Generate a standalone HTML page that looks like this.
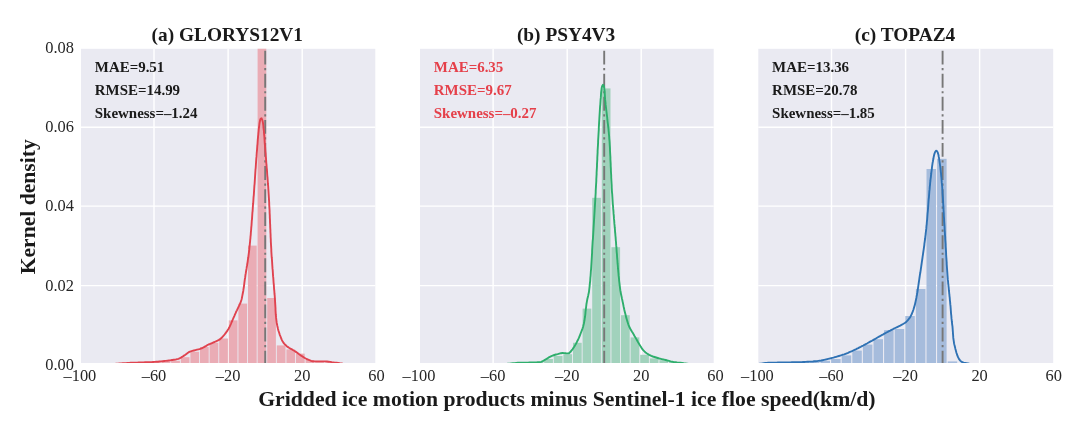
<!DOCTYPE html>
<html lang="en"><head><meta charset="utf-8"><title>Kernel density of ice motion differences</title>
<style>
html,body{margin:0;padding:0;background:#fff}
body{width:1084px;height:423px;overflow:hidden}
svg{display:block}
text{font-family:"Liberation Serif","Times New Roman",serif;fill:#222}
.tt{font-size:19.35px;font-weight:bold;fill:#1a1a1a}
.an{font-size:14.95px;font-weight:bold}
.tk{font-size:16.4px;fill:#262626}
.xl{font-size:21.72px;font-weight:bold;fill:#1a1a1a}
.yl{font-size:21.6px;font-weight:bold;fill:#1a1a1a}
</style></head>
<body>
<svg width="1084" height="423" viewBox="0 0 1084 423">
<defs>
<clipPath id="cp0"><rect x="81.0" y="48.8" width="294.3" height="314.2"/></clipPath>
<clipPath id="cp1"><rect x="420.0" y="48.8" width="293.7" height="314.2"/></clipPath>
<clipPath id="cp2"><rect x="758.3" y="48.8" width="294.9" height="314.2"/></clipPath>
</defs>
<rect width="1084" height="423" fill="#fff"/>
<g>
<rect x="81.0" y="48.8" width="294.3" height="314.2" fill="#eaeaf2"/>
<path d="M154.0,48.8 V363.0 M228.1,48.8 V363.0 M302.2,48.8 V363.0 M81.0,285.6 H375.3 M81.0,206.1 H375.3 M81.0,127.3 H375.3" stroke="#fff" stroke-width="1.45" fill="none"/>
<g clip-path="url(#cp0)">
<rect x="152.0" y="362.3" width="8.7" height="0.7" fill="#eaacb5"/>
<rect x="161.6" y="361.6" width="8.7" height="1.4" fill="#eaacb5"/>
<rect x="171.2" y="360.8" width="8.7" height="2.2" fill="#eaacb5"/>
<rect x="180.8" y="357.2" width="8.7" height="5.8" fill="#eaacb5"/>
<rect x="190.4" y="351.8" width="8.7" height="11.2" fill="#eaacb5"/>
<rect x="200.0" y="347.0" width="8.7" height="16.0" fill="#eaacb5"/>
<rect x="209.6" y="342.8" width="8.7" height="20.2" fill="#eaacb5"/>
<rect x="219.2" y="338.5" width="8.7" height="24.5" fill="#eaacb5"/>
<rect x="228.8" y="320.4" width="8.7" height="42.6" fill="#eaacb5"/>
<rect x="238.4" y="303.6" width="8.7" height="59.4" fill="#eaacb5"/>
<rect x="248.0" y="245.6" width="8.7" height="117.4" fill="#eaacb5"/>
<rect x="257.6" y="20.0" width="8.7" height="343.0" fill="#eaacb5"/>
<rect x="267.2" y="298.0" width="8.7" height="65.0" fill="#eaacb5"/>
<rect x="276.8" y="345.4" width="8.7" height="17.6" fill="#eaacb5"/>
<rect x="286.4" y="349.4" width="8.7" height="13.6" fill="#eaacb5"/>
<rect x="296.0" y="353.6" width="8.7" height="9.4" fill="#eaacb5"/>
<rect x="305.6" y="360.0" width="8.7" height="3.0" fill="#eaacb5"/>
<rect x="315.2" y="361.7" width="8.7" height="1.3" fill="#eaacb5"/>
<rect x="324.8" y="362.4" width="8.7" height="0.6" fill="#eaacb5"/>
<path d="M265.2,363.0 V48.8" stroke="#777" stroke-width="1.9" stroke-dasharray="13.87 3.5 2.2 3.5" stroke-dashoffset="1.5" fill="none"/>
<path d="M110.0,364.4 L111.6,364.2 L113.2,364.1 L114.8,363.9 L116.4,363.8 L118.0,363.7 L119.6,363.5 L121.2,363.4 L122.8,363.3 L124.4,363.2 L125.9,363.1 L127.5,363.0 L129.1,362.9 L130.7,362.8 L132.3,362.7 L133.9,362.7 L135.5,362.6 L137.1,362.6 L138.7,362.5 L140.3,362.5 L141.9,362.4 L143.5,362.4 L145.1,362.3 L146.7,362.3 L148.3,362.2 L149.9,362.2 L151.5,362.1 L153.1,362.0 L154.7,361.9 L156.3,361.8 L157.9,361.7 L159.5,361.5 L161.1,361.4 L162.7,361.2 L164.3,361.0 L165.9,360.9 L167.5,360.7 L169.1,360.5 L170.7,360.3 L172.3,360.0 L173.9,359.8 L175.5,359.6 L177.0,359.2 L178.5,358.8 L179.9,358.2 L181.3,357.4 L182.7,356.5 L184.0,355.6 L185.4,354.7 L186.7,353.7 L188.0,352.7 L189.3,351.9 L190.8,351.3 L192.3,350.9 L193.9,350.5 L195.4,350.1 L197.0,349.7 L198.6,349.3 L200.1,348.9 L201.6,348.4 L203.0,347.7 L204.4,346.9 L205.8,346.1 L207.2,345.2 L208.6,344.5 L210.1,343.9 L211.5,343.3 L213.0,342.6 L214.5,342.0 L216.0,341.3 L217.5,340.6 L218.9,339.9 L220.2,339.1 L221.4,338.1 L222.5,336.9 L223.6,335.7 L224.6,334.5 L225.6,333.2 L226.5,331.9 L227.4,330.6 L228.3,329.2 L229.1,327.8 L229.8,326.4 L230.5,324.9 L231.1,323.5 L231.7,322.0 L232.4,320.5 L233.0,319.0 L233.6,317.6 L234.3,316.1 L234.9,314.6 L235.6,313.2 L236.2,311.7 L236.9,310.3 L237.6,308.8 L238.3,307.3 L239.0,305.9 L239.7,304.4 L240.4,303.0 L240.9,301.5 L241.4,300.0 L241.8,298.5 L242.1,296.9 L242.4,295.4 L242.7,293.8 L243.0,292.3 L243.3,290.7 L243.5,289.1 L243.8,287.5 L244.0,285.9 L244.2,284.3 L244.4,282.7 L244.6,281.1 L244.8,279.5 L245.1,277.9 L245.3,276.3 L245.5,274.7 L245.8,273.2 L246.0,271.6 L246.3,270.0 L246.6,268.4 L246.8,266.8 L247.1,265.2 L247.3,263.7 L247.6,262.1 L247.8,260.5 L248.0,258.9 L248.3,257.3 L248.5,255.7 L248.7,254.2 L248.9,252.6 L249.1,251.0 L249.3,249.4 L249.4,247.8 L249.6,246.2 L249.8,244.6 L249.9,243.0 L250.1,241.5 L250.2,239.9 L250.4,238.3 L250.5,236.7 L250.7,235.1 L250.8,233.5 L250.9,231.9 L251.1,230.3 L251.2,228.7 L251.3,227.1 L251.5,225.5 L251.6,223.9 L251.7,222.3 L251.8,220.7 L252.0,219.1 L252.1,217.5 L252.2,215.9 L252.3,214.3 L252.4,212.7 L252.6,211.1 L252.7,209.5 L252.8,207.9 L252.9,206.3 L253.0,204.8 L253.2,203.2 L253.3,201.6 L253.4,200.0 L253.5,198.4 L253.6,196.8 L253.8,195.2 L253.9,193.6 L254.0,192.0 L254.1,190.4 L254.2,188.8 L254.3,187.2 L254.4,185.6 L254.6,184.0 L254.7,182.4 L254.8,180.8 L254.9,179.2 L255.0,177.6 L255.1,176.0 L255.2,174.4 L255.3,172.8 L255.4,171.2 L255.5,169.6 L255.7,168.0 L255.8,166.4 L255.9,164.8 L256.0,163.2 L256.1,161.6 L256.2,160.1 L256.3,158.5 L256.5,156.9 L256.6,155.3 L256.7,153.7 L256.8,152.1 L257.0,150.5 L257.1,148.9 L257.2,147.3 L257.3,145.7 L257.5,144.1 L257.6,142.5 L257.7,140.9 L257.8,139.3 L258.0,137.7 L258.1,136.1 L258.3,134.5 L258.4,132.9 L258.6,131.3 L258.7,129.7 L258.9,128.2 L259.1,126.6 L259.3,125.0 L259.5,123.4 L259.8,121.8 L260.1,120.2 L260.7,118.6 L261.6,118.3 L262.3,120.0 L262.7,121.5 L263.0,123.1 L263.2,124.7 L263.4,126.3 L263.5,127.9 L263.7,129.5 L263.9,131.1 L264.0,132.7 L264.1,134.3 L264.3,135.8 L264.4,137.4 L264.5,139.0 L264.6,140.6 L264.7,142.2 L264.8,143.8 L265.0,145.4 L265.1,147.0 L265.2,148.6 L265.3,150.2 L265.4,151.8 L265.6,153.4 L265.7,155.0 L265.8,156.6 L266.0,158.2 L266.1,159.8 L266.2,161.4 L266.3,163.0 L266.5,164.6 L266.6,166.2 L266.7,167.8 L266.9,169.4 L267.0,171.0 L267.1,172.6 L267.2,174.2 L267.3,175.8 L267.5,177.4 L267.6,179.0 L267.7,180.5 L267.8,182.1 L267.9,183.7 L268.1,185.3 L268.2,186.9 L268.3,188.5 L268.4,190.1 L268.5,191.7 L268.6,193.3 L268.7,194.9 L268.8,196.5 L268.9,198.1 L269.0,199.7 L269.1,201.3 L269.2,202.9 L269.2,204.5 L269.3,206.1 L269.4,207.7 L269.5,209.3 L269.6,210.9 L269.6,212.5 L269.7,214.1 L269.8,215.7 L269.8,217.3 L269.9,218.9 L270.0,220.5 L270.0,222.1 L270.1,223.7 L270.2,225.3 L270.2,226.9 L270.3,228.5 L270.4,230.1 L270.4,231.7 L270.5,233.3 L270.6,234.9 L270.6,236.5 L270.7,238.1 L270.8,239.7 L270.8,241.3 L270.9,242.9 L271.0,244.5 L271.1,246.1 L271.2,247.7 L271.3,249.3 L271.3,250.9 L271.4,252.5 L271.5,254.1 L271.6,255.7 L271.7,257.2 L271.9,258.8 L272.0,260.4 L272.1,262.0 L272.2,263.6 L272.3,265.2 L272.4,266.8 L272.5,268.4 L272.7,270.0 L272.8,271.6 L272.9,273.2 L273.0,274.8 L273.1,276.4 L273.3,278.0 L273.4,279.6 L273.5,281.2 L273.6,282.8 L273.8,284.4 L273.9,286.0 L274.0,287.6 L274.1,289.2 L274.3,290.8 L274.4,292.4 L274.5,294.0 L274.7,295.5 L274.8,297.1 L274.9,298.7 L275.0,300.3 L275.1,301.9 L275.2,303.5 L275.3,305.1 L275.4,306.7 L275.5,308.3 L275.5,309.9 L275.6,311.5 L275.7,313.1 L275.8,314.7 L276.0,316.3 L276.1,317.9 L276.3,319.5 L276.5,321.1 L276.7,322.7 L277.0,324.2 L277.3,325.8 L277.7,327.4 L278.0,328.9 L278.4,330.5 L278.9,332.0 L279.4,333.5 L279.9,335.1 L280.5,336.5 L281.1,338.1 L281.7,339.6 L282.4,341.0 L283.2,342.3 L284.2,343.6 L285.3,344.8 L286.5,345.9 L287.7,346.9 L289.0,347.8 L290.4,348.6 L291.9,349.3 L293.2,350.2 L294.6,351.0 L295.9,351.9 L297.2,352.8 L298.5,353.8 L299.8,354.7 L301.1,355.6 L302.5,356.5 L303.8,357.4 L305.2,358.2 L306.6,359.0 L308.1,359.6 L309.5,360.2 L311.1,360.8 L312.6,361.3 L314.2,361.4 L315.8,361.4 L317.4,361.4 L319.0,361.4 L320.6,361.4 L322.2,361.4 L323.8,361.4 L325.4,361.4 L327.0,361.5 L328.6,361.7 L330.2,361.9 L331.8,362.2 L333.3,362.4 L334.9,362.6 L336.5,362.8 L338.1,363.0 L339.7,363.3 L341.3,363.5 L342.8,363.8 L344.4,364.0 L346.0,364.3" stroke="#e0434f" stroke-width="1.9" fill="none" stroke-linejoin="round" stroke-linecap="round"/>
</g>
<text x="227.3" y="41.3" class="tt" text-anchor="middle">(a) GLORYS12V1</text>
<text x="94.8" y="71.7" class="an" style="fill:#1a1a1a">MAE=9.51</text>
<text x="94.8" y="95.3" class="an" style="fill:#1a1a1a">RMSE=14.99</text>
<text x="94.8" y="118.1" class="an" style="fill:#1a1a1a">Skewness=–1.24</text>
<text x="79.9" y="381.0" class="tk" text-anchor="middle">–100</text>
<text x="154.0" y="381.0" class="tk" text-anchor="middle">–60</text>
<text x="228.1" y="381.0" class="tk" text-anchor="middle">–20</text>
<text x="302.2" y="381.0" class="tk" text-anchor="middle">20</text>
<text x="376.4" y="381.0" class="tk" text-anchor="middle">60</text>
</g>
<g>
<rect x="420.0" y="48.8" width="293.7" height="314.2" fill="#eaeaf2"/>
<path d="M493.1,48.8 V363.0 M567.2,48.8 V363.0 M641.2,48.8 V363.0 M420.0,285.6 H713.7 M420.0,206.1 H713.7 M420.0,127.3 H713.7" stroke="#fff" stroke-width="1.45" fill="none"/>
<g clip-path="url(#cp1)">
<rect x="525.0" y="362.5" width="8.7" height="0.5" fill="#a1d2bc"/>
<rect x="534.6" y="362.0" width="8.7" height="1.0" fill="#a1d2bc"/>
<rect x="544.2" y="359.0" width="8.7" height="4.0" fill="#a1d2bc"/>
<rect x="553.8" y="356.0" width="8.7" height="7.0" fill="#a1d2bc"/>
<rect x="563.4" y="354.2" width="8.7" height="8.8" fill="#a1d2bc"/>
<rect x="573.0" y="342.8" width="8.7" height="20.2" fill="#a1d2bc"/>
<rect x="582.6" y="308.6" width="8.7" height="54.4" fill="#a1d2bc"/>
<rect x="592.2" y="197.8" width="8.7" height="165.2" fill="#a1d2bc"/>
<rect x="601.8" y="88.4" width="8.7" height="274.6" fill="#a1d2bc"/>
<rect x="611.4" y="247.2" width="8.7" height="115.8" fill="#a1d2bc"/>
<rect x="621.0" y="315.2" width="8.7" height="47.8" fill="#a1d2bc"/>
<rect x="630.6" y="337.4" width="8.7" height="25.6" fill="#a1d2bc"/>
<rect x="640.2" y="354.8" width="8.7" height="8.2" fill="#a1d2bc"/>
<rect x="649.8" y="358.4" width="8.7" height="4.6" fill="#a1d2bc"/>
<rect x="659.4" y="360.2" width="8.7" height="2.8" fill="#a1d2bc"/>
<rect x="669.0" y="362.0" width="8.7" height="1.0" fill="#a1d2bc"/>
<path d="M604.2,363.0 V48.8" stroke="#777" stroke-width="1.9" stroke-dasharray="13.87 3.5 2.2 3.5" stroke-dashoffset="1.5" fill="none"/>
<path d="M503.0,364.4 L504.7,364.2 L506.3,364.0 L508.0,363.8 L509.6,363.6 L511.3,363.4 L512.9,363.2 L514.6,363.1 L516.2,362.9 L517.9,362.8 L519.6,362.8 L521.2,362.7 L522.9,362.7 L524.6,362.6 L526.3,362.6 L527.9,362.6 L529.6,362.5 L531.3,362.5 L533.0,362.5 L534.6,362.4 L536.3,362.4 L537.9,362.3 L539.5,362.2 L541.2,361.8 L542.7,361.2 L544.1,360.4 L545.5,359.5 L547.0,358.6 L548.4,357.7 L549.9,356.9 L551.4,356.2 L552.9,355.5 L554.4,355.0 L556.0,354.5 L557.7,354.1 L559.3,353.6 L560.9,353.2 L562.5,353.0 L564.2,353.1 L566.0,353.3 L567.6,353.4 L569.0,353.2 L570.3,352.1 L571.4,350.6 L572.5,349.3 L573.4,347.9 L574.4,346.5 L575.2,345.1 L576.0,343.7 L576.8,342.2 L577.5,340.7 L578.3,339.2 L579.0,337.7 L579.6,336.1 L580.2,334.6 L580.8,333.0 L581.4,331.5 L582.0,329.9 L582.6,328.3 L583.1,326.7 L583.5,325.1 L583.9,323.5 L584.2,321.9 L584.5,320.3 L584.7,318.6 L585.0,317.0 L585.2,315.3 L585.4,313.7 L585.5,312.0 L585.7,310.4 L585.9,308.7 L586.1,307.0 L586.3,305.4 L586.5,303.7 L586.8,302.1 L587.1,300.4 L587.4,298.8 L587.8,297.2 L588.2,295.5 L588.5,293.9 L588.9,292.3 L589.1,290.6 L589.3,289.0 L589.5,287.4 L589.7,285.7 L589.8,284.1 L590.0,282.4 L590.2,280.8 L590.3,279.1 L590.4,277.4 L590.6,275.8 L590.7,274.1 L590.8,272.5 L590.9,270.8 L591.1,269.1 L591.2,267.5 L591.3,265.8 L591.4,264.1 L591.5,262.5 L591.6,260.8 L591.7,259.2 L591.8,257.5 L591.9,255.8 L592.0,254.2 L592.1,252.5 L592.1,250.8 L592.2,249.2 L592.3,247.5 L592.4,245.8 L592.5,244.2 L592.6,242.5 L592.7,240.8 L592.9,239.2 L593.0,237.5 L593.1,235.9 L593.2,234.2 L593.3,232.5 L593.4,230.9 L593.5,229.2 L593.6,227.5 L593.7,225.9 L593.8,224.2 L593.9,222.6 L594.0,220.9 L594.1,219.2 L594.2,217.6 L594.3,215.9 L594.4,214.3 L594.5,212.6 L594.6,210.9 L594.7,209.3 L594.8,207.6 L594.9,205.9 L595.0,204.3 L595.1,202.6 L595.2,201.0 L595.3,199.3 L595.4,197.6 L595.5,196.0 L595.6,194.3 L595.7,192.6 L595.7,191.0 L595.8,189.3 L595.9,187.7 L596.0,186.0 L596.1,184.3 L596.2,182.7 L596.3,181.0 L596.3,179.3 L596.4,177.7 L596.5,176.0 L596.6,174.4 L596.6,172.7 L596.7,171.0 L596.8,169.4 L596.9,167.7 L597.0,166.0 L597.0,164.4 L597.1,162.7 L597.2,161.0 L597.3,159.4 L597.3,157.7 L597.4,156.1 L597.5,154.4 L597.6,152.7 L597.6,151.1 L597.7,149.4 L597.8,147.7 L597.9,146.1 L598.0,144.4 L598.1,142.8 L598.1,141.1 L598.2,139.4 L598.3,137.8 L598.4,136.1 L598.5,134.4 L598.6,132.8 L598.7,131.1 L598.8,129.5 L598.8,127.8 L598.9,126.1 L599.0,124.5 L599.1,122.8 L599.2,121.1 L599.3,119.5 L599.4,117.8 L599.5,116.1 L599.6,114.5 L599.7,112.8 L599.8,111.2 L599.9,109.5 L600.0,107.8 L600.1,106.2 L600.3,104.5 L600.4,102.9 L600.5,101.2 L600.6,99.5 L600.8,97.9 L600.9,96.2 L601.0,94.5 L601.1,92.8 L601.3,91.1 L601.5,89.5 L601.7,87.9 L602.1,86.3 L603.0,84.8 L603.9,86.1 L604.2,87.7 L604.4,89.3 L604.6,90.9 L604.7,92.6 L604.8,94.3 L604.9,96.0 L605.0,97.7 L605.1,99.4 L605.3,101.0 L605.5,102.7 L605.6,104.4 L605.8,106.0 L606.0,107.7 L606.2,109.3 L606.4,111.0 L606.6,112.6 L606.8,114.3 L607.0,115.9 L607.2,117.6 L607.3,119.2 L607.5,120.9 L607.7,122.6 L607.9,124.2 L608.1,125.9 L608.3,127.5 L608.5,129.2 L608.6,130.8 L608.8,132.5 L608.9,134.1 L609.1,135.8 L609.2,137.5 L609.3,139.1 L609.5,140.8 L609.6,142.4 L609.7,144.1 L609.8,145.8 L609.9,147.4 L610.0,149.1 L610.0,150.7 L610.1,152.4 L610.2,154.1 L610.3,155.7 L610.4,157.4 L610.4,159.1 L610.5,160.7 L610.6,162.4 L610.7,164.1 L610.7,165.7 L610.8,167.4 L610.9,169.0 L610.9,170.7 L611.0,172.4 L611.1,174.0 L611.2,175.7 L611.2,177.4 L611.3,179.0 L611.4,180.7 L611.5,182.4 L611.6,184.0 L611.7,185.7 L611.7,187.3 L611.8,189.0 L611.9,190.7 L612.0,192.3 L612.2,194.0 L612.3,195.7 L612.4,197.3 L612.5,199.0 L612.6,200.6 L612.7,202.3 L612.8,204.0 L613.0,205.6 L613.1,207.3 L613.2,208.9 L613.4,210.6 L613.5,212.3 L613.6,213.9 L613.8,215.6 L613.9,217.2 L614.0,218.9 L614.2,220.6 L614.3,222.2 L614.4,223.9 L614.6,225.5 L614.7,227.2 L614.9,228.8 L615.0,230.5 L615.1,232.2 L615.3,233.8 L615.4,235.5 L615.6,237.1 L615.7,238.8 L615.8,240.5 L616.0,242.1 L616.1,243.8 L616.2,245.4 L616.4,247.1 L616.5,248.8 L616.6,250.4 L616.7,252.1 L616.9,253.8 L617.0,255.4 L617.1,257.1 L617.2,258.7 L617.4,260.4 L617.5,262.1 L617.6,263.7 L617.8,265.4 L617.9,267.1 L618.0,268.7 L618.2,270.4 L618.3,272.0 L618.5,273.7 L618.6,275.4 L618.8,277.0 L619.0,278.7 L619.1,280.3 L619.3,282.0 L619.5,283.6 L619.7,285.3 L619.9,286.9 L620.1,288.6 L620.3,290.2 L620.6,291.8 L620.9,293.5 L621.2,295.1 L621.6,296.7 L621.9,298.4 L622.3,300.0 L622.6,301.6 L623.0,303.3 L623.3,304.9 L623.6,306.5 L624.0,308.2 L624.3,309.8 L624.7,311.4 L625.1,313.0 L625.5,314.6 L625.9,316.3 L626.3,317.9 L626.8,319.5 L627.3,321.1 L627.8,322.7 L628.3,324.3 L628.9,325.8 L629.5,327.3 L630.3,328.8 L631.1,330.2 L632.0,331.7 L632.9,333.1 L633.7,334.5 L634.5,336.0 L635.4,337.4 L636.2,338.9 L637.0,340.3 L637.8,341.8 L638.7,343.2 L639.5,344.6 L640.4,346.1 L641.3,347.5 L642.2,348.9 L643.2,350.2 L644.4,351.4 L645.6,352.5 L647.0,353.5 L648.4,354.4 L649.8,355.2 L651.3,355.9 L652.9,356.5 L654.5,357.0 L656.1,357.5 L657.7,358.0 L659.3,358.5 L660.9,358.9 L662.5,359.3 L664.1,359.6 L665.7,360.0 L667.4,360.5 L669.0,360.9 L670.6,361.4 L672.2,361.7 L673.8,362.1 L675.5,362.3 L677.1,362.5 L678.8,362.6 L680.4,362.8 L682.1,363.0 L683.7,363.3 L685.4,363.5 L687.0,363.7 L688.7,363.9 L690.3,364.1 L692.0,364.3" stroke="#2eae6c" stroke-width="1.9" fill="none" stroke-linejoin="round" stroke-linecap="round"/>
</g>
<text x="566.1" y="41.3" class="tt" text-anchor="middle">(b) PSY4V3</text>
<text x="433.8" y="71.7" class="an" style="fill:#e5404a">MAE=6.35</text>
<text x="433.8" y="95.3" class="an" style="fill:#e5404a">RMSE=9.67</text>
<text x="433.8" y="118.1" class="an" style="fill:#e5404a">Skewness=–0.27</text>
<text x="419.0" y="381.0" class="tk" text-anchor="middle">–100</text>
<text x="493.1" y="381.0" class="tk" text-anchor="middle">–60</text>
<text x="567.2" y="381.0" class="tk" text-anchor="middle">–20</text>
<text x="641.2" y="381.0" class="tk" text-anchor="middle">20</text>
<text x="715.4" y="381.0" class="tk" text-anchor="middle">60</text>
</g>
<g>
<rect x="758.3" y="48.8" width="294.9" height="314.2" fill="#eaeaf2"/>
<path d="M831.5,48.8 V363.0 M905.6,48.8 V363.0 M979.6,48.8 V363.0 M758.3,285.6 H1053.2 M758.3,206.1 H1053.2 M758.3,127.3 H1053.2" stroke="#fff" stroke-width="1.45" fill="none"/>
<g clip-path="url(#cp2)">
<rect x="799.3" y="362.6" width="9.5" height="0.4" fill="#a6bcdc"/>
<rect x="809.9" y="362.0" width="9.5" height="1.0" fill="#a6bcdc"/>
<rect x="820.5" y="360.8" width="9.5" height="2.2" fill="#a6bcdc"/>
<rect x="831.1" y="359.0" width="9.5" height="4.0" fill="#a6bcdc"/>
<rect x="841.7" y="355.4" width="9.5" height="7.6" fill="#a6bcdc"/>
<rect x="852.3" y="350.6" width="9.5" height="12.4" fill="#a6bcdc"/>
<rect x="862.9" y="344.6" width="9.5" height="18.4" fill="#a6bcdc"/>
<rect x="873.5" y="339.2" width="9.5" height="23.8" fill="#a6bcdc"/>
<rect x="884.1" y="330.2" width="9.5" height="32.8" fill="#a6bcdc"/>
<rect x="894.7" y="329.0" width="9.5" height="34.0" fill="#a6bcdc"/>
<rect x="905.3" y="316.0" width="9.5" height="47.0" fill="#a6bcdc"/>
<rect x="915.9" y="289.0" width="9.5" height="74.0" fill="#a6bcdc"/>
<rect x="926.5" y="169.0" width="9.5" height="194.0" fill="#a6bcdc"/>
<rect x="937.1" y="158.8" width="9.5" height="204.2" fill="#a6bcdc"/>
<rect x="947.7" y="361.4" width="9.5" height="1.6" fill="#a6bcdc"/>
<path d="M942.6,363.0 V48.8" stroke="#777" stroke-width="1.9" stroke-dasharray="13.87 3.5 2.2 3.5" stroke-dashoffset="1.5" fill="none"/>
<path d="M757.0,364.3 L758.4,364.1 L759.8,363.8 L761.2,363.6 L762.5,363.4 L763.9,363.2 L765.3,363.0 L766.7,362.9 L768.1,362.8 L769.5,362.7 L770.9,362.7 L772.3,362.7 L773.7,362.6 L775.1,362.6 L776.5,362.6 L777.9,362.5 L779.3,362.5 L780.7,362.5 L782.1,362.5 L783.5,362.5 L784.9,362.4 L786.3,362.4 L787.7,362.4 L789.1,362.4 L790.5,362.4 L791.9,362.3 L793.3,362.3 L794.7,362.3 L796.1,362.3 L797.5,362.2 L798.9,362.2 L800.3,362.1 L801.7,362.1 L803.1,362.0 L804.5,362.0 L805.9,361.9 L807.3,361.8 L808.7,361.7 L810.1,361.6 L811.5,361.6 L812.9,361.5 L814.3,361.3 L815.7,361.2 L817.1,361.1 L818.4,360.9 L819.8,360.7 L821.2,360.5 L822.6,360.2 L824.0,359.9 L825.3,359.6 L826.7,359.3 L828.1,358.9 L829.4,358.6 L830.8,358.3 L832.1,357.9 L833.5,357.6 L834.8,357.2 L836.2,356.8 L837.5,356.4 L838.9,356.0 L840.2,355.6 L841.6,355.2 L842.9,354.7 L844.2,354.3 L845.5,353.8 L846.8,353.3 L848.1,352.8 L849.4,352.2 L850.7,351.7 L852.0,351.1 L853.2,350.5 L854.5,349.9 L855.8,349.3 L857.0,348.7 L858.3,348.1 L859.5,347.4 L860.8,346.8 L862.0,346.1 L863.3,345.5 L864.5,344.8 L865.7,344.2 L867.0,343.5 L868.2,342.8 L869.4,342.1 L870.6,341.4 L871.9,340.8 L873.1,340.1 L874.3,339.4 L875.5,338.7 L876.7,338.0 L877.9,337.3 L879.1,336.6 L880.4,335.9 L881.6,335.2 L882.8,334.6 L884.0,333.9 L885.3,333.2 L886.5,332.5 L887.7,331.9 L889.0,331.2 L890.2,330.6 L891.5,329.9 L892.7,329.3 L893.9,328.6 L895.2,328.0 L896.5,327.4 L897.7,326.8 L899.0,326.2 L900.2,325.6 L901.5,324.9 L902.7,324.2 L903.9,323.5 L905.1,322.7 L906.2,321.9 L907.2,320.9 L908.1,319.9 L909.0,318.7 L909.9,317.6 L910.6,316.4 L911.2,315.2 L911.8,314.0 L912.3,312.7 L912.8,311.4 L913.3,310.0 L913.7,308.7 L914.1,307.3 L914.5,305.9 L914.9,304.6 L915.2,303.2 L915.5,301.9 L915.8,300.5 L916.1,299.1 L916.4,297.7 L916.6,296.4 L916.9,295.0 L917.1,293.6 L917.4,292.2 L917.6,290.8 L917.8,289.5 L918.0,288.1 L918.2,286.7 L918.4,285.3 L918.6,283.9 L918.8,282.5 L919.0,281.1 L919.2,279.8 L919.4,278.4 L919.6,277.0 L919.8,275.6 L920.0,274.2 L920.3,272.8 L920.5,271.4 L920.7,270.1 L920.9,268.7 L921.1,267.3 L921.3,265.9 L921.5,264.5 L921.7,263.1 L921.9,261.7 L922.1,260.4 L922.3,259.0 L922.5,257.6 L922.7,256.2 L922.9,254.8 L923.1,253.4 L923.3,252.0 L923.5,250.7 L923.7,249.3 L923.9,247.9 L924.1,246.5 L924.3,245.1 L924.4,243.7 L924.6,242.3 L924.8,240.9 L925.0,239.5 L925.2,238.2 L925.3,236.8 L925.5,235.4 L925.7,234.0 L925.8,232.6 L926.0,231.2 L926.1,229.8 L926.3,228.4 L926.4,227.0 L926.5,225.6 L926.7,224.3 L926.8,222.9 L926.9,221.5 L927.1,220.1 L927.2,218.7 L927.3,217.3 L927.4,215.9 L927.5,214.5 L927.6,213.1 L927.8,211.7 L927.9,210.3 L928.0,208.9 L928.1,207.5 L928.2,206.1 L928.3,204.7 L928.4,203.3 L928.5,201.9 L928.6,200.5 L928.7,199.1 L928.9,197.7 L929.0,196.3 L929.1,194.9 L929.2,193.5 L929.3,192.1 L929.4,190.8 L929.6,189.4 L929.7,188.0 L929.8,186.6 L930.0,185.2 L930.1,183.8 L930.2,182.4 L930.4,181.0 L930.5,179.6 L930.7,178.2 L930.9,176.8 L931.0,175.4 L931.2,174.0 L931.3,172.6 L931.5,171.3 L931.7,169.9 L931.9,168.5 L932.0,167.1 L932.2,165.7 L932.4,164.3 L932.6,162.9 L932.9,161.5 L933.1,160.2 L933.4,158.8 L933.6,157.4 L933.9,156.0 L934.2,154.6 L934.6,153.3 L935.1,152.0 L936.0,150.7 L937.0,151.1 L937.7,152.4 L938.1,153.7 L938.5,155.1 L938.7,156.5 L939.0,157.9 L939.2,159.3 L939.4,160.7 L939.6,162.0 L939.8,163.4 L940.0,164.8 L940.2,166.2 L940.4,167.6 L940.5,169.0 L940.7,170.4 L940.8,171.8 L941.0,173.2 L941.1,174.6 L941.2,176.0 L941.4,177.4 L941.5,178.8 L941.6,180.2 L941.7,181.6 L941.8,182.9 L942.0,184.3 L942.1,185.7 L942.2,187.1 L942.3,188.5 L942.4,189.9 L942.5,191.3 L942.5,192.7 L942.6,194.1 L942.7,195.5 L942.8,196.9 L942.9,198.3 L943.0,199.7 L943.1,201.1 L943.1,202.5 L943.2,203.9 L943.3,205.3 L943.4,206.7 L943.5,208.1 L943.5,209.5 L943.6,210.9 L943.7,212.3 L943.8,213.7 L943.8,215.1 L943.9,216.5 L944.0,217.9 L944.1,219.3 L944.1,220.7 L944.2,222.1 L944.3,223.5 L944.4,224.9 L944.5,226.3 L944.6,227.7 L944.6,229.1 L944.7,230.5 L944.8,231.9 L944.9,233.3 L945.0,234.7 L945.1,236.1 L945.2,237.5 L945.2,238.9 L945.3,240.2 L945.4,241.6 L945.5,243.0 L945.6,244.4 L945.6,245.8 L945.7,247.2 L945.8,248.6 L945.9,250.0 L946.0,251.4 L946.1,252.8 L946.1,254.2 L946.2,255.6 L946.3,257.0 L946.4,258.4 L946.5,259.8 L946.6,261.2 L946.7,262.6 L946.7,264.0 L946.8,265.4 L946.9,266.8 L947.0,268.2 L947.1,269.6 L947.2,271.0 L947.3,272.4 L947.4,273.8 L947.5,275.2 L947.6,276.6 L947.7,278.0 L947.8,279.4 L948.0,280.8 L948.1,282.2 L948.2,283.6 L948.4,284.9 L948.5,286.3 L948.7,287.7 L948.8,289.1 L948.9,290.5 L949.1,291.9 L949.2,293.3 L949.4,294.7 L949.5,296.1 L949.7,297.5 L949.8,298.9 L949.9,300.3 L950.1,301.7 L950.2,303.1 L950.3,304.4 L950.5,305.8 L950.6,307.2 L950.7,308.6 L950.8,310.0 L950.9,311.4 L951.0,312.8 L951.1,314.2 L951.3,315.6 L951.4,317.0 L951.5,318.4 L951.7,319.8 L951.8,321.2 L952.0,322.6 L952.1,324.0 L952.3,325.4 L952.5,326.7 L952.6,328.1 L952.7,329.5 L952.8,330.9 L952.9,332.3 L953.0,333.7 L953.1,335.1 L953.2,336.5 L953.3,337.9 L953.5,339.3 L953.7,340.7 L953.9,342.1 L954.1,343.5 L954.4,344.8 L954.8,346.2 L955.1,347.6 L955.4,348.9 L955.8,350.3 L956.1,351.6 L956.5,353.0 L957.0,354.4 L957.4,355.7 L958.0,357.0 L958.6,358.2 L959.3,359.4 L960.2,360.6 L961.3,361.6 L962.4,362.2 L963.7,362.6 L965.1,362.9 L966.5,363.2 L967.9,363.5 L969.3,363.8 L970.6,364.0 L972.0,364.3" stroke="#2f72b4" stroke-width="1.9" fill="none" stroke-linejoin="round" stroke-linecap="round"/>
</g>
<text x="905.0" y="41.3" class="tt" text-anchor="middle">(c) TOPAZ4</text>
<text x="772.1" y="71.7" class="an" style="fill:#1a1a1a">MAE=13.36</text>
<text x="772.1" y="95.3" class="an" style="fill:#1a1a1a">RMSE=20.78</text>
<text x="772.1" y="118.1" class="an" style="fill:#1a1a1a">Skewness=–1.85</text>
<text x="757.4" y="381.0" class="tk" text-anchor="middle">–100</text>
<text x="831.5" y="381.0" class="tk" text-anchor="middle">–60</text>
<text x="905.6" y="381.0" class="tk" text-anchor="middle">–20</text>
<text x="979.6" y="381.0" class="tk" text-anchor="middle">20</text>
<text x="1053.8" y="381.0" class="tk" text-anchor="middle">60</text>
</g>
<text x="74.0" y="369.9" class="tk" text-anchor="end">0.00</text>
<text x="74.0" y="290.6" class="tk" text-anchor="end">0.02</text>
<text x="74.0" y="211.3" class="tk" text-anchor="end">0.04</text>
<text x="74.0" y="131.9" class="tk" text-anchor="end">0.06</text>
<text x="74.0" y="52.6" class="tk" text-anchor="end">0.08</text>
<text class="xl" x="566.9" y="405.5" text-anchor="middle">Gridded ice motion products minus Sentinel-1 ice floe speed(km/d)</text>
<text class="yl" transform="translate(34.8,206.8) rotate(-90)" text-anchor="middle">Kernel density</text>
</svg>
</body></html>
